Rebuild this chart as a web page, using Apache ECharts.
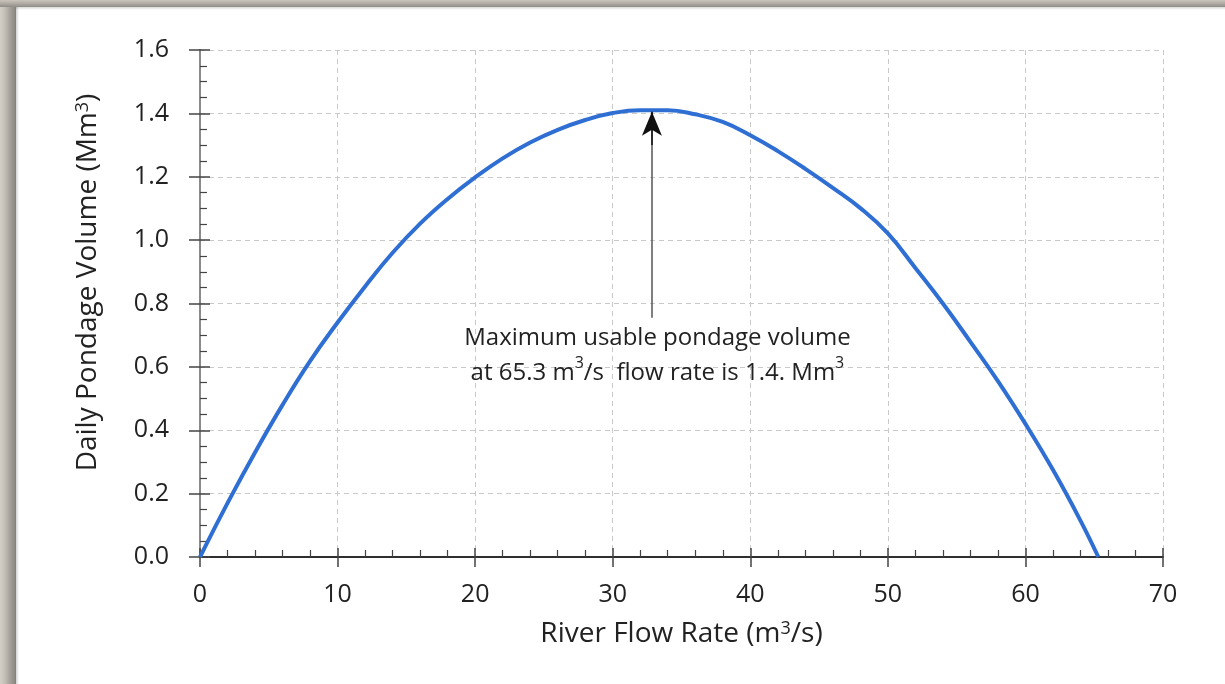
<!DOCTYPE html>
<html>
<head>
<meta charset="utf-8">
<script src="https://cdn.jsdelivr.net/npm/echarts@6/dist/echarts.min.js"></script>
<style>
  html, body { margin: 0; padding: 0; background: #ffffff; }
  #chart { position: absolute; left: 0; top: 0; width: 1225px; height: 684px; }
  .frameL { position: absolute; left: 0; top: 0; width: 16px; height: 684px;
    background: linear-gradient(to right, #d3cfc7 0px, #c2beb6 5px, #a4a19a 10px, #8c8983 15px, #7f7c77 16px); z-index: 5; }
  .frameT { position: absolute; left: 0; top: 0; width: 1225px; height: 7px;
    background: linear-gradient(to bottom, #c9c5bd 0px, #b3afa7 3px, #9a968f 6px, #8d8a84 7px); z-index: 5; }
  .shadowL { position: absolute; left: 16px; top: 7px; width: 3px; height: 677px;
    background: linear-gradient(to right, rgba(0,0,0,0.18), rgba(0,0,0,0)); z-index: 5; }
  .shadowT { position: absolute; left: 16px; top: 7px; width: 1209px; height: 3px;
    background: linear-gradient(to bottom, rgba(0,0,0,0.15), rgba(0,0,0,0)); z-index: 5; }
</style>
</head>
<body>
<div id="chart"></div>
<div class="frameL"></div>
<div class="frameT"></div>
<div class="shadowL"></div>
<div class="shadowT"></div>
<script>
// ---- Data ----
const flowRate = [0, 2, 4, 6, 8, 10, 12, 14, 16, 18, 20, 22, 24, 26, 28, 30, 32, 34, 36, 38, 40, 42, 44, 46, 48, 50, 52, 54, 56, 58, 60, 62, 64, 65.3];
const pondageVolume = [0, 0.17, 0.33, 0.48, 0.618, 0.74, 0.854, 0.96, 1.052, 1.13, 1.198, 1.258, 1.308, 1.348, 1.379, 1.401, 1.410, 1.410, 1.397, 1.373, 1.331, 1.281, 1.225, 1.165, 1.101, 1.021, 0.912, 0.80, 0.679, 0.555, 0.42, 0.275, 0.115, 0];

const xAxisName = 'River Flow Rate (m{sup|3}/s)';
const yAxisName = 'Daily Pondage Volume (Mm{sup|3})';
const xMin = 0, xMax = 70, xStep = 10;
const yMin = 0, yMax = 1.6, yStep = 0.2;

const arrowStart = [32.85, 0.755];
const arrowHeadStart = [32.85, 1.30];
const arrowEnd = [32.85, 1.405];
const noteAnchor = [33.25, 0.635];
const noteLines = ['Maximum usable pondage volume', 'at 65.3 m{sup|3}/s  flow rate is 1.4. Mm{sup|3}'];

const FONT = '"Open Sans", "Noto Sans", sans-serif';

const seriesData = flowRate.map((x, i) => [x, pondageVolume[i]]);

const chart = echarts.init(document.getElementById('chart'), null, { renderer: 'canvas' });

const baseX = { type: 'value', min: xMin, max: xMax, interval: xStep, gridIndex: 0 };
const baseY = { type: 'value', min: yMin, max: yMax, interval: yStep, gridIndex: 0 };

const option = {
  animation: false,
  backgroundColor: 'transparent',
  grid: { left: 200, right: 62, top: 50, bottom: 127, containLabel: false, outerBoundsMode: 'none' },
  xAxis: [
    Object.assign({}, baseX, {
      position: 'bottom',
      name: xAxisName,
      nameLocation: 'middle',
      nameGap: 63,
      nameTextStyle: { fontFamily: FONT, fontSize: 28, color: '#222',
        rich: { sup: { fontFamily: FONT, fontSize: 18, verticalAlign: 'top', color: '#222' } } },
      axisLine: { show: true, lineStyle: { color: '#5a5a5a', width: 2 } },
      axisTick: { show: true, inside: true, length: 9, lineStyle: { color: '#444', width: 1.5 } },
      minorTick: { show: true, splitNumber: 5, length: 7, lineStyle: { color: '#444', width: 1.2 } },
      axisLabel: { show: true, fontFamily: FONT, fontSize: 25, color: '#222', margin: 25,
        formatter: v => String(v) },
      splitLine: { show: true, lineStyle: { color: '#c9c9c9', width: 1, type: [5, 4] } }
    }),
    Object.assign({}, baseX, {
      position: 'bottom',
      axisLine: { show: false },
      axisTick: { show: true, inside: false, length: 10, lineStyle: { color: '#444', width: 1.5 } },
      axisLabel: { show: false },
      splitLine: { show: false }
    }),
    Object.assign({}, baseX, {
      position: 'top',
      axisLine: { show: true, lineStyle: { color: '#222', width: 1.5 } },
      axisTick: { show: false },
      axisLabel: { show: false },
      splitLine: { show: false }
    })
  ],
  yAxis: [
    Object.assign({}, baseY, {
      position: 'left',
      name: yAxisName,
      nameLocation: 'middle',
      nameGap: 98,
      nameRotate: 90,
      nameTextStyle: { fontFamily: FONT, fontSize: 28, color: '#222', padding: [0, 0, 0, 42],
        rich: { sup: { fontFamily: FONT, fontSize: 18, verticalAlign: 'top', color: '#222' } } },
      axisLine: { show: true, lineStyle: { color: '#5a5a5a', width: 2 } },
      axisTick: { show: true, inside: true, length: 10, lineStyle: { color: '#444', width: 1.5 } },
      minorTick: { show: true, splitNumber: 4, length: 7, lineStyle: { color: '#444', width: 1.2 } },
      axisLabel: { show: true, fontFamily: FONT, fontSize: 25, color: '#222', margin: 31,
        formatter: v => v.toFixed(1) },
      splitLine: { show: true, lineStyle: { color: '#c9c9c9', width: 1, type: [5, 4] } }
    }),
    Object.assign({}, baseY, {
      position: 'left',
      axisLine: { show: false },
      axisTick: { show: true, inside: false, length: 11, lineStyle: { color: '#444', width: 1.5 } },
      axisLabel: { show: false },
      splitLine: { show: false }
    }),
    Object.assign({}, baseY, {
      position: 'right',
      axisLine: { show: true, lineStyle: { color: '#8a8a8a', width: 2 } },
      axisTick: { show: false },
      axisLabel: { show: false },
      splitLine: { show: false }
    })
  ],
  series: [{
    type: 'line',
    xAxisIndex: 0,
    yAxisIndex: 0,
    data: seriesData,
    symbol: 'none',
    smooth: 0.45,
    lineStyle: { color: '#2f6fd4', width: 4 },
    z: 3,
    markLine: {
      silent: true,
      animation: false,
      symbol: ['none', 'none'],
      label: { show: false },
      lineStyle: { color: '#555', width: 1.5, type: 'solid' },
      data: [
        [{ coord: arrowStart }, { coord: arrowEnd }],
        [{ coord: arrowHeadStart, symbol: 'none', lineStyle: { color: '#111', width: 1.5, type: 'solid' } },
         { coord: arrowEnd, symbol: 'arrow', symbolSize: [15, 24] }]
      ]
    },
    markPoint: {
      silent: true,
      animation: false,
      symbol: 'circle',
      symbolSize: 0,
      label: {
        show: true,
        position: 'inside',
        fontFamily: FONT,
        fontSize: 24,
        lineHeight: 35,
        color: '#222',
        align: 'center',
        verticalAlign: 'middle',
        formatter: () => noteLines.join('\n'),
        rich: { sup: { fontFamily: FONT, fontSize: 16, lineHeight: 22, verticalAlign: 'top', color: '#222' } }
      },
      data: [{ coord: noteAnchor }]
    }
  }]
};

chart.setOption(option);
</script>
</body>
</html>
